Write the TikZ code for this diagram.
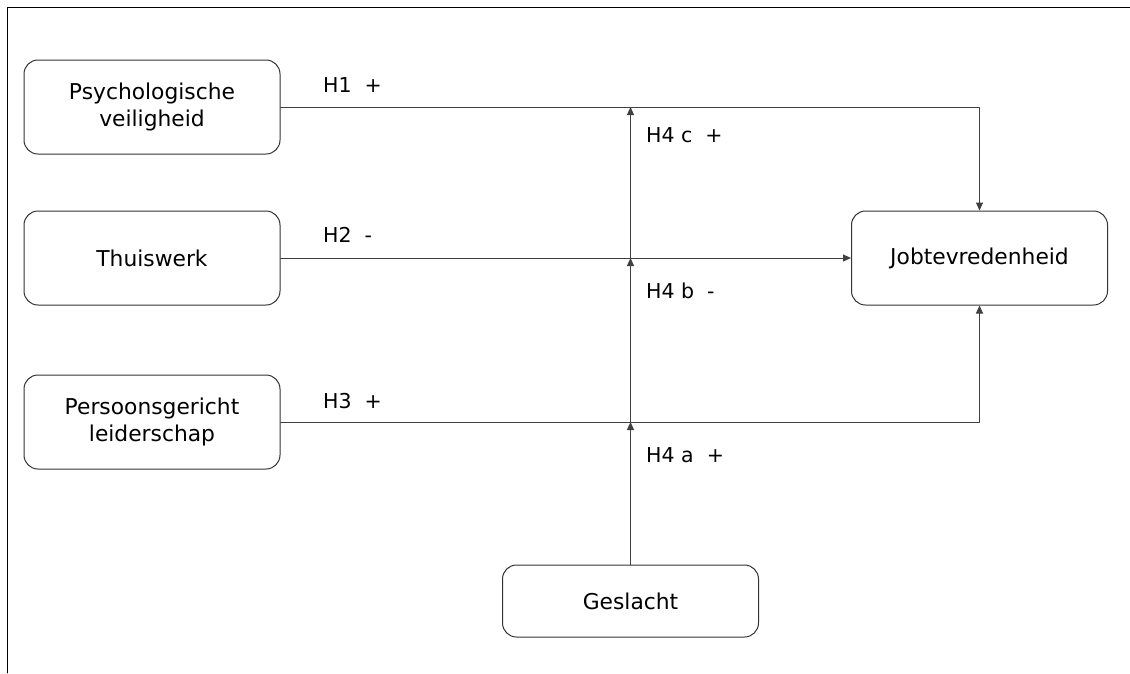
\documentclass[tikz,border=0pt]{standalone}
\usepackage{fontspec}
\setmainfont{DejaVu Sans}
\usetikzlibrary{arrows.meta}
\tikzset{blok/.style={draw=black!80,line width=1pt,rounded corners=14pt,minimum width=256pt,minimum height=94pt,align=center,font=\fontsize{21.8}{27}\selectfont},
lbl/.style={anchor=base west,inner sep=0pt,font=\fontsize{20.5}{26.5}\selectfont}}

\begin{document}
\begin{tikzpicture}[line cap=round,line join=round,>={Triangle[length=8pt,width=7pt]},x=1pt,y=-1pt]
\useasboundingbox (0,0) rectangle (1130,673);
\draw [line width=0.8pt] (7,673)--(7,7)--(1130,7);
\node [blok] (psy) at (152,107) {Psychologische\\veiligheid};
\node [blok] (thuis) at (152,258) {Thuiswerk};
\node [blok] (pers) at (152,422) {Persoonsgericht\\leiderschap};
\node [blok] (job) at (979.5,258) {Jobtevredenheid};
\node [blok,minimum height=72pt] (ges) at (630.5,601) {Geslacht};
\coordinate (k1) at (630.5,107);
\coordinate (k2) at (630.5,258);
\coordinate (k3) at (630.5,422);
\draw [->,draw=black!75,line width=1pt] (psy.east) -| (job.north);
\draw [->,draw=black!75,line width=1pt] (thuis.east) -- (job.west);
\draw [->,draw=black!75,line width=1pt] (pers.east) -| (job.south);
\draw [->,draw=black!75,line width=1pt] (ges.north) -- (k3);
\draw [->,draw=black!75,line width=1pt] (k3) -- (k2);
\draw [->,draw=black!75,line width=1pt] (k2) -- (k1);
\node [lbl] (h1) at (323,92) {H1\ \ +};
\node [lbl] (h2) at (323,242) {H2\ \ -};
\node [lbl] (h3) at (323,408) {H3\ \ +};
\node [lbl] (h4c) at (646,142) {H4 c\ \ +};
\node [lbl] (h4b) at (646,298) {H4 b\ \ -};
\node [lbl] (h4a) at (646,462) {H4 a\ \ +};
\end{tikzpicture}
\end{document}
